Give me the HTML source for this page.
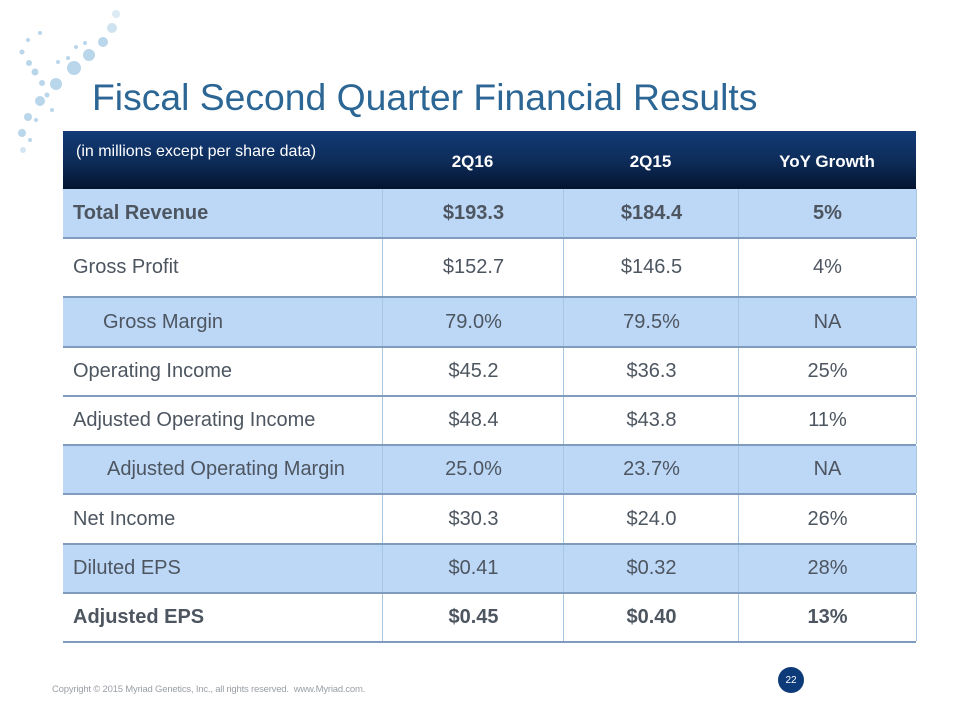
<!DOCTYPE html>
<html><head><meta charset="utf-8"><style>
body{margin:0;width:960px;height:720px;background:#fff;position:relative;overflow:hidden;font-family:"Liberation Sans",sans-serif}
.t{position:absolute;left:63px;top:131px;width:853px}
.hdr{position:absolute;left:0;top:0;width:853px;height:58px;background:linear-gradient(#123b78,#0d2b57 55%,#041430)}
.row{position:absolute;left:0;width:853px;border-bottom:2px solid #7f9bbd;color:#4d5660;font-size:20px}
.c{position:absolute;top:0;height:100%;display:flex;align-items:center}
.b{border-left:1px solid #a9c6e0}
.blue{background:#bdd7f6}
.h{color:#fff;font-size:17px;font-weight:bold;padding-top:4px;box-sizing:border-box}
</style></head><body>
<svg style="position:absolute;left:0;top:0" width="130" height="180">
<g fill="#b9d6ea">
<circle cx="116" cy="14" r="4" opacity=".5"/><circle cx="112" cy="28" r="5" opacity=".7"/><circle cx="103" cy="42" r="5"/><circle cx="89" cy="55" r="6"/><circle cx="74" cy="68" r="7"/><circle cx="56" cy="84" r="6"/><circle cx="40" cy="101" r="5"/><circle cx="28" cy="117" r="4"/><circle cx="22" cy="133" r="4"/><circle cx="23" cy="150" r="3" opacity=".6"/>
<circle cx="40" cy="33" r="2"/><circle cx="28" cy="40" r="2"/><circle cx="22" cy="52" r="2.5"/><circle cx="29" cy="63" r="3"/><circle cx="35" cy="72" r="3.5"/><circle cx="42" cy="83" r="3"/><circle cx="47" cy="95" r="2.5"/><circle cx="52" cy="110" r="2"/><circle cx="58" cy="62" r="2"/><circle cx="68" cy="58" r="2"/><circle cx="76" cy="47" r="2"/><circle cx="85" cy="43" r="2"/><circle cx="36" cy="120" r="2"/><circle cx="30" cy="140" r="2"/></g></svg>
<div style="position:absolute;left:92px;top:76px;font-size:37.3px;color:#2b6694">Fiscal Second Quarter Financial Results</div>
<div class="t">
<div class="hdr">
<div class="c" style="left:13px;top:12px;height:auto;color:#fff;font-size:16px">(in millions except per share data)</div>
<div class="c h" style="left:319px;width:181px;justify-content:center;top:0">2Q16</div>
<div class="c h" style="left:500px;width:175px;justify-content:center">2Q15</div>
<div class="c h" style="left:675px;width:178px;justify-content:center">YoY Growth</div>
</div>
<div id="rows"></div>
</div>
<div style="position:absolute;left:52px;top:684px;font-size:9.5px;color:#9a9fa5;letter-spacing:-0.2px">Copyright © 2015 Myriad Genetics, Inc., all rights reserved.&nbsp; www.Myriad.com.</div>
<div style="position:absolute;left:778px;top:667px;width:26px;height:26px;border-radius:50%;background:#0d3a78;color:#fff;font-size:10px;display:flex;align-items:center;justify-content:center">22</div>
<script>
const labels=["Total Revenue","Gross Profit","Gross Margin","Operating Income","Adjusted Operating Income","Adjusted Operating Margin","Net Income","Diluted EPS","Adjusted EPS"];
const q16=["$193.3","$152.7","79.0%","$45.2","$48.4","25.0%","$30.3","$0.41","$0.45"];
const q15=["$184.4","$146.5","79.5%","$36.3","$43.8","23.7%","$24.0","$0.32","$0.40"];
const yoy=["5%","4%","NA","25%","11%","NA","26%","28%","13%"];
const tops=[58,108,167,217,266,315,364,414,463,512];
const blue=[1,0,1,0,0,1,0,1,0],bold=[1,0,0,0,0,0,0,0,1],indent=[0,0,30,0,0,34,0,0,0];
const R=document.getElementById('rows');
labels.forEach((l,i)=>{
 const r=document.createElement('div');
 
 
 r.className='row'+(blue[i]?' blue':'');
 r.style.top=tops[i]+'px';r.style.height=(tops[i+1]-tops[i]-2)+'px';
 if(bold[i])r.style.fontWeight='bold';
 r.innerHTML=`<div class="c" style="left:${10+indent[i]}px">${l}</div><div class="c b" style="left:319px;width:181px;justify-content:center">${q16[i]}</div><div class="c b" style="left:500px;width:175px;justify-content:center">${q15[i]}</div><div class="c b" style="left:675px;width:177px;justify-content:center;border-right:1px solid #a9c6e0">${yoy[i]}</div>`;
 R.appendChild(r);
});
</script>
</body></html>
